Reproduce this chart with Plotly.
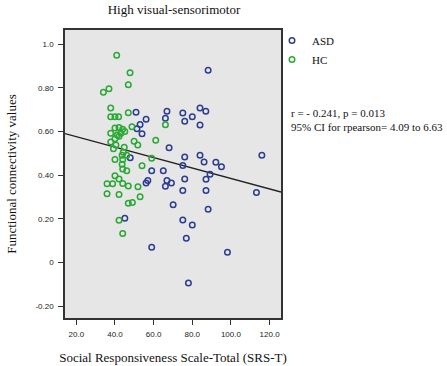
import plotly.graph_objects as go
import numpy as np

# ASD group: (SRS-T, functional connectivity)
asd_x = [88.2, 50.9, 66.9, 75.1, 84.0, 87.0, 56.1, 66.1, 80.0, 76.1, 53.0, 51.4, 84.0, 54.0,
         68.0, 76.1, 84.0, 47.9, 75.1, 86.1, 92.2, 95.1, 116.0, 89.2, 76.1, 87.1, 75.1, 87.1,
         113.2, 88.2, 75.1, 80.0, 76.9, 98.2, 78.0, 59.0, 65.0, 57.0, 56.1, 66.9, 69.2, 66.1,
         70.1, 45.1, 59.0]
asd_y = [0.881, 0.689, 0.693, 0.685, 0.708, 0.693, 0.657, 0.661, 0.668, 0.647, 0.633, 0.613, 0.630, 0.590,
         0.526, 0.484, 0.492, 0.480, 0.445, 0.460, 0.459, 0.439, 0.491, 0.404, 0.383, 0.381, 0.330, 0.330,
         0.321, 0.244, 0.194, 0.171, 0.111, 0.047, -0.095, 0.420, 0.420, 0.376, 0.364, 0.376, 0.364, 0.349,
         0.264, 0.203, 0.070]

# HC group
hc_x = [40.9, 47.8, 46.9, 36.9, 34.0, 37.8, 37.8, 40.0, 41.9, 46.9, 66.1, 48.8, 40.0, 42.1,
        44.0, 37.8, 41.2, 43.1, 45.1, 40.0, 42.1, 37.8, 49.9, 51.8, 61.1, 40.5, 39.2, 44.8,
        44.3, 43.7, 46.1, 40.0, 44.0, 43.7, 54.0, 59.0, 44.0, 46.1, 40.0, 42.1, 35.9, 38.8,
        44.0, 46.9, 51.9, 35.9, 42.1, 53.0, 46.9, 49.0, 42.1, 44.0]
hc_y = [0.950, 0.870, 0.815, 0.796, 0.781, 0.708, 0.668, 0.668, 0.668, 0.686, 0.631, 0.622, 0.616, 0.619,
        0.611, 0.592, 0.584, 0.592, 0.601, 0.567, 0.579, 0.552, 0.556, 0.538, 0.560, 0.538, 0.521, 0.528,
        0.505, 0.492, 0.492, 0.472, 0.472, 0.450, 0.443, 0.478, 0.429, 0.420, 0.397, 0.383, 0.361, 0.361,
        0.362, 0.350, 0.347, 0.315, 0.312, 0.301, 0.271, 0.275, 0.193, 0.133]

# Fit line
fit_intercept = 0.6245
fit_slope = -0.002396

x_range = [14.15, 125.9]
y_range = [-0.255, 1.066]
x_ticks = [20, 40, 60, 80, 100, 120]
x_tick_labels = ["20.0", "40.0", "60.0", "80.0", "100.0", "120.0"]
y_ticks = [1.0, 0.8, 0.6, 0.4, 0.2, 0.0, -0.2]
y_tick_labels = ["1.0", "0.80", "0.60", "0.40", "0.20", "0", "-0.20"]

title_text = "High visual-sensorimotor"
x_title = "Social Responsiveness Scale-Total (SRS-T)"
y_title = "Functional connectivity values"
stats_lines = ["r = - 0.241, p = 0.013", "95% CI for rpearson= 4.09 to 6.63"]

serif = "Liberation Serif, Times New Roman, serif"
sans = "Liberation Sans, Arial, sans-serif"

fig = go.Figure()
line_x = np.array(x_range)
fig.add_trace(go.Scatter(x=line_x, y=fit_intercept + fit_slope * line_x, mode="lines",
                         line=dict(color="#222222", width=1.3), showlegend=False, hoverinfo="skip"))
fig.add_trace(go.Scatter(x=asd_x, y=asd_y, mode="markers", name="ASD",
                         marker=dict(symbol="circle-open", size=5.5, color="#2a3d92", line=dict(width=1.5))))
fig.add_trace(go.Scatter(x=hc_x, y=hc_y, mode="markers", name="HC",
                         marker=dict(symbol="circle-open", size=5.5, color="#2aa835", line=dict(width=1.5))))

fig.add_annotation(xref="paper", yref="paper", x=(289 - 65) / 216, y=1 - (120 - 30) / 288,
                   xanchor="left", yanchor="middle",
                   text="<br>".join(stats_lines), showarrow=False, align="left",
                   font=dict(family=serif, size=11, color="#111111"))

fig.update_layout(
    width=447, height=366,
    margin=dict(l=65, r=166, t=30, b=48, autoexpand=False),
    paper_bgcolor="white", plot_bgcolor="#e6e6e6",
    title=dict(text=title_text, x=174 / 447, xanchor="center", y=1 - 9 / 366, yanchor="middle",
               font=dict(family=serif, size=13, color="#111111")),
    xaxis=dict(range=x_range, tickvals=x_ticks, ticktext=x_tick_labels, showgrid=False, zeroline=False,
               ticks="outside", ticklen=5, tickcolor="#333333", showline=True, linecolor="#333333",
               linewidth=1.5, mirror=True, ticklabelstandoff=3,
               tickfont=dict(family=sans, size=8, color="#222222"),
               title=dict(text=x_title, standoff=15, font=dict(family=serif, size=13, color="#111111"))),
    yaxis=dict(range=y_range, tickvals=y_ticks, ticktext=y_tick_labels, showgrid=False, zeroline=False,
               ticks="outside", ticklen=5, tickcolor="#333333", showline=True, linecolor="#333333",
               linewidth=1.5, mirror=True, ticklabelstandoff=3,
               tickfont=dict(family=sans, size=8, color="#222222"),
               title=dict(text=y_title, standoff=16, font=dict(family=serif, size=13, color="#111111"))),
    legend=dict(x=(272 - 65) / 216, y=1 + 4 / 288, xanchor="left", yanchor="top", bgcolor="rgba(0,0,0,0)",
                font=dict(family=serif, size=11, color="#111111"), tracegroupgap=0, itemwidth=30),
)

fig.write_html("out.html", config={"displayModeBar": False},
               post_script="document.body.style.margin='0';")
